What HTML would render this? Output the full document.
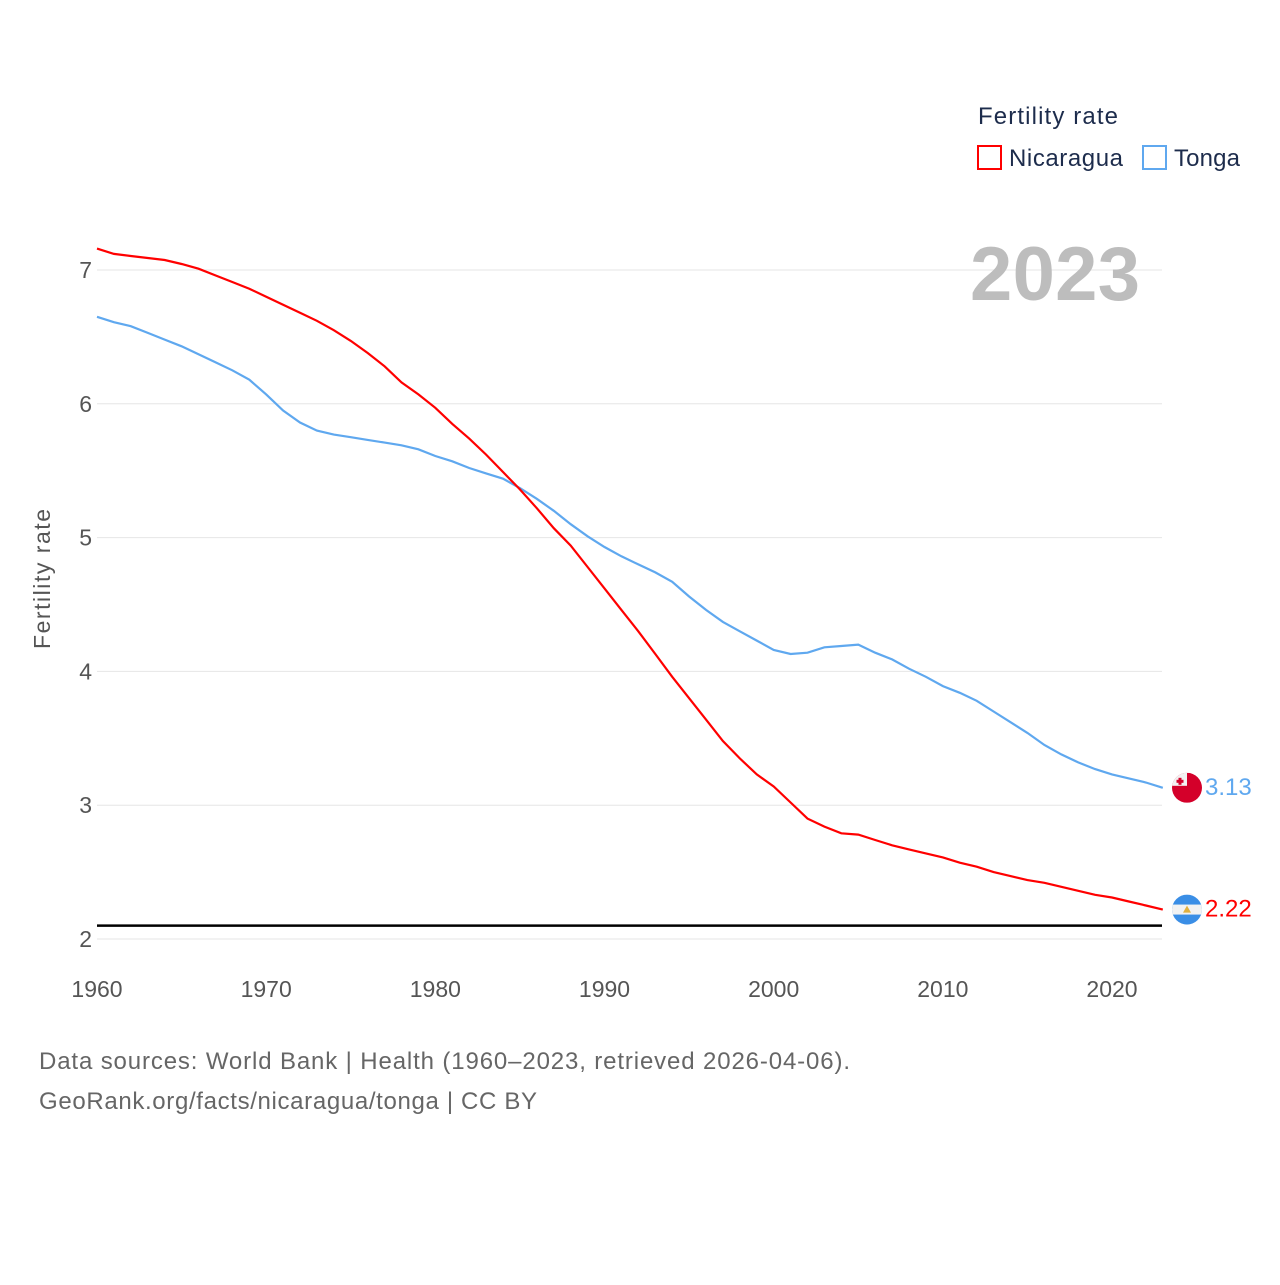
<!DOCTYPE html>
<html><head><meta charset="utf-8"><style>
body{margin:0;background:#fff;width:1280px;height:1280px;overflow:hidden;font-family:"Liberation Sans",sans-serif}
</style></head><body>
<svg id="chart" width="1280" height="1280" xmlns="http://www.w3.org/2000/svg" font-family="Liberation Sans, sans-serif">
<g id="grid"></g>
<g id="yticks"></g>
<g id="xticks"></g>
<text transform="translate(50,579) rotate(-90)" text-anchor="middle" font-size="23" fill="#555" textLength="140">Fertility rate</text>
<text x="1140" y="300" text-anchor="end" font-size="76" font-weight="bold" fill="#bdbdbd" textLength="170">2023</text>
<g>
<text x="978" y="124" font-size="24" fill="#1d2c4c" textLength="140">Fertility rate</text>
<rect x="978" y="146" width="23" height="23" fill="none" stroke="#ff0000" stroke-width="2"/>
<text x="1009" y="166" font-size="24" fill="#1d2c4c" textLength="114">Nicaragua</text>
<rect x="1143" y="146" width="23" height="23" fill="none" stroke="#5fa8ef" stroke-width="2"/>
<text x="1174" y="166" font-size="24" fill="#1d2c4c" textLength="66">Tonga</text>
</g>
<line id="ref" x1="97" x2="1162" stroke="#000" stroke-width="2.5"/>
<path id="lineT" fill="none" stroke="#5fa8ef" stroke-width="2.2"/>
<path id="lineN" fill="none" stroke="#ff0000" stroke-width="2.2"/>
<g id="ends"></g>
<text x="39" y="1069" font-size="24" fill="#666" textLength="811">Data sources: World Bank | Health (1960–2023, retrieved 2026-04-06).</text>
<text x="39" y="1109" font-size="24" fill="#666" textLength="498">GeoRank.org/facts/nicaragua/tonga | CC BY</text>
</svg>
<script>
const years=[];for(let y=1960;y<=2023;y++)years.push(y);
const nicaragua=[7.16,7.12,7.105,7.09,7.075,7.045,7.01,6.96,6.91,6.86,6.80,6.74,6.68,6.62,6.55,6.47,6.38,6.28,6.16,6.07,5.97,5.85,5.74,5.62,5.49,5.36,5.22,5.07,4.94,4.78,4.62,4.46,4.30,4.13,3.96,3.80,3.64,3.48,3.35,3.23,3.14,3.02,2.90,2.84,2.79,2.78,2.74,2.70,2.67,2.64,2.61,2.57,2.54,2.50,2.47,2.44,2.42,2.39,2.36,2.33,2.31,2.28,2.25,2.22];
const tonga=[6.65,6.61,6.58,6.53,6.48,6.43,6.37,6.31,6.25,6.18,6.07,5.95,5.86,5.80,5.77,5.75,5.73,5.71,5.69,5.66,5.61,5.57,5.52,5.48,5.44,5.37,5.29,5.20,5.10,5.01,4.93,4.86,4.80,4.74,4.67,4.56,4.46,4.37,4.30,4.23,4.16,4.13,4.14,4.18,4.19,4.20,4.14,4.09,4.02,3.96,3.89,3.84,3.78,3.70,3.62,3.54,3.45,3.38,3.32,3.27,3.23,3.20,3.17,3.13];
const yTicks=[2,3,4,5,6,7];
const xTicks=[1960,1970,1980,1990,2000,2010,2020];
const replacement=2.1;
const NS='http://www.w3.org/2000/svg';
const X=y=>97+(y-1960)*16.917;
const Y=v=>939-(v-2)*133.8;
function el(t,a,p){const e=document.createElementNS(NS,t);for(const k in a)e.setAttribute(k,a[k]);p.appendChild(e);return e;}
const grid=document.getElementById('grid'),yt=document.getElementById('yticks'),xt=document.getElementById('xticks');
yTicks.forEach(v=>{
 const l=el('line',{x1:97,x2:1162,y1:Y(v),y2:Y(v),stroke:'#e6e6e6','stroke-width':1},grid);
 
 
 const t=el('text',{x:92,y:Y(v)+8,'text-anchor':'end','font-size':23,fill:'#555'},yt);
 t.textContent=v;
 
 
});
xTicks.forEach(v=>{
 const t=el('text',{x:X(v),y:997,'text-anchor':'middle','font-size':23,fill:'#555'},xt);
 t.textContent=v;
 
 
});
const r=document.getElementById('ref');r.setAttribute('y1',Y(replacement));r.setAttribute('y2',Y(replacement));
const path=d=>d.map((v,i)=>(i?'L':'M')+X(years[i]).toFixed(1)+','+Y(v).toFixed(1)).join('');
document.getElementById('lineN').setAttribute('d',path(nicaragua));
document.getElementById('lineT').setAttribute('d',path(tonga));
const ends=document.getElementById('ends');
const last=years.length-1,fx=1187;
const ty=Y(tonga[last]);
const cT=el('clipPath',{id:'cT'},ends);el('circle',{cx:fx,cy:ty,r:15},cT);
const gT=el('g',{'clip-path':'url(#cT)'},ends);


el('rect',{x:fx-15,y:ty-15,width:30,height:30,fill:'#d4002a'},gT);
el('rect',{x:fx-15,y:ty-15,width:15,height:13,fill:'#f2f2f2'},gT);
el('rect',{x:fx-8.5,y:ty-10,width:3,height:7,fill:'#d4002a'},gT);
el('rect',{x:fx-10.5,y:ty-8,width:7,height:3,fill:'#d4002a'},gT);
const lt=el('text',{x:1205,y:ty+7,'font-size':24,fill:'#5fa8ef'},ends);lt.textContent=tonga[last].toFixed(2);


const ny=Y(nicaragua[last]);
const cN=el('clipPath',{id:'cN'},ends);el('circle',{cx:fx,cy:ny,r:15},cN);
const gN=el('g',{'clip-path':'url(#cN)'},ends);


el('rect',{x:fx-15,y:ny-15,width:30,height:30,fill:'#3a8ee6'},gN);
el('rect',{x:fx-15,y:ny-5,width:30,height:10,fill:'#f2f2f2'},gN);
el('polygon',{points:`${fx},${ny-4} ${fx+4},${ny+3} ${fx-4},${ny+3}`,fill:'#e0b040'},gN);
const ln=el('text',{x:1205,y:ny+7,'font-size':24,fill:'#ff0000'},ends);ln.textContent=nicaragua[last].toFixed(2);


</script>
</body></html>
